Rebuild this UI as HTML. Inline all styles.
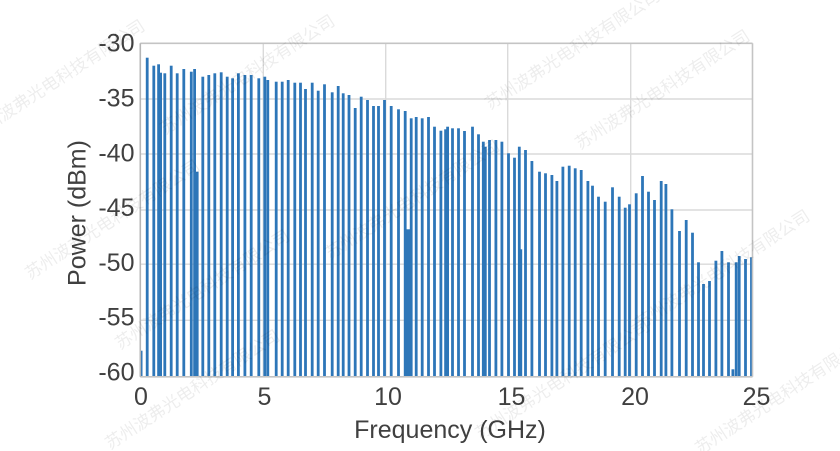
<!DOCTYPE html>
<html><head><meta charset="utf-8"><style>
html,body{margin:0;padding:0;background:#fff;width:840px;height:451px;overflow:hidden}
svg{display:block}
text{font-family:"Liberation Sans","Noto Sans CJK SC",sans-serif}
</style></head><body>
<svg width="840" height="451" viewBox="0 0 840 451" xmlns="http://www.w3.org/2000/svg">
<rect x="0" y="0" width="840" height="451" fill="#fff"/>
<!-- grid -->
<g stroke="#dadada" stroke-width="1.4" fill="none">
<line x1="140.3" y1="99" x2="752.5" y2="99"/>
<line x1="140.3" y1="154" x2="752.5" y2="154"/>
<line x1="140.3" y1="210" x2="752.5" y2="210"/>
<line x1="140.3" y1="264.2" x2="752.5" y2="264.2"/>
<line x1="140.3" y1="320.3" x2="752.5" y2="320.3"/>
<line x1="263.3" y1="43.3" x2="263.3" y2="376.8"/>
<line x1="385.7" y1="43.3" x2="385.7" y2="376.8"/>
<line x1="507.7" y1="43.3" x2="507.7" y2="376.8"/>
<line x1="630.7" y1="43.3" x2="630.7" y2="376.8"/>
</g>
<g id="bars" fill="#2d76b8"></g>
<!-- frame -->
<g stroke="#c4c4c4" stroke-width="1.6" fill="none">
<line x1="140.3" y1="43.3" x2="752.5" y2="43.3"/>
<line x1="752.5" y1="43.3" x2="752.5" y2="376.8"/>
<line x1="140.3" y1="376.8" x2="752.5" y2="376.8"/>
<line x1="140.3" y1="43.3" x2="140.3" y2="376.8" stroke="#b5b5b5"/>
</g>
<!-- y tick labels -->
<g fill="#404040" font-size="25" text-anchor="end">
<text x="134.5" y="51.7">-30</text>
<text x="134.5" y="106.5">-35</text>
<text x="134.5" y="161.3">-40</text>
<text x="134.5" y="216.1">-45</text>
<text x="134.5" y="270.9">-50</text>
<text x="134.5" y="325.7">-55</text>
<text x="134.5" y="380.5">-60</text>
</g>
<!-- x tick labels -->
<g fill="#404040" font-size="25" text-anchor="middle">
<text x="141" y="405">0</text>
<text x="264.5" y="405">5</text>
<text x="388" y="405">10</text>
<text x="511.5" y="405">15</text>
<text x="635" y="405">20</text>
<text x="756.5" y="405">25</text>
</g>
<text x="450" y="438" fill="#404040" font-size="25" text-anchor="middle">Frequency (GHz)</text>
<text transform="translate(85.5,213) rotate(-90)" fill="#404040" font-size="25" text-anchor="middle">Power (dBm)</text>
<!-- watermarks -->
<g fill="#000" fill-opacity="0.07" font-size="17" font-family="'Noto Sans CJK SC',sans-serif">
<text transform="translate(-25,140) rotate(-33)">苏州波弗光电科技有限公司</text>
<text transform="translate(165,135) rotate(-33)">苏州波弗光电科技有限公司</text>
<text transform="translate(490,110) rotate(-33)">苏州波弗光电科技有限公司</text>
<text transform="translate(580,150) rotate(-33)">苏州波弗光电科技有限公司</text>
<text transform="translate(330,260) rotate(-33)">苏州波弗光电科技有限公司</text>
<text transform="translate(120,350) rotate(-33)">苏州波弗光电科技有限公司</text>
<text transform="translate(110,450) rotate(-33)">苏州波弗光电科技有限公司</text>
<text transform="translate(480,440) rotate(-33)">苏州波弗光电科技有限公司</text>
<text transform="translate(700,455) rotate(-33)">苏州波弗光电科技有限公司</text>
<text transform="translate(640,330) rotate(-33)">苏州波弗光电科技有限公司</text>
<text transform="translate(30,280) rotate(-33)">苏州波弗光电科技有限公司</text>
</g>
</svg>
<script>
(function(){
var d=[
[141.3,350.7,2.4],[147.2,57.7],[153.8,65.7],[158.6,64.3],[160.6,72.7],[164.8,73.3],[171.2,65.7],[177.2,73.3],[183.8,69],
[191.3,71.7],[194.6,69],[197.2,171.7],[202.8,76.7],[208.8,75],[214.8,73.3],[221.2,72.3],[227.2,76.7],[232.6,78.3],
[238.4,73.3],[244.9,75],[251.2,75],[258.8,78.3],[264.8,76.7],[267.8,80],[276.2,81.7],[282.2,81.7],[288.2,80],
[294.8,82.7],[300.5,82.7],[305.5,89],[312.2,82.7],[318.2,90.7],[324.5,84.3],[332.2,92.3],[338.2,86],[343.2,93.3],
[349,95],[355.2,108],[361.2,96.7],[367.5,100],[373.5,106],[378.5,106],[384.5,100],[391.2,106],[398.5,109.3],
[405.2,111],[408.2,229.3,4.2],[411.2,118.3],[416.2,117],[422.2,118.3],[428.5,117],[434.5,126.7],[440.9,130.7],
[445.6,129.3],[447.6,126.7],[452.5,128.3],[458.5,128.3],[464.5,131],[472.5,126.7],[478.5,134.3],[483.3,141.7],
[485.3,146.7],[489.5,140],[495.9,140],[501.9,141.7],[508.5,153.3],[514.5,157.7],[519.3,146.7],[520.8,249.3],
[525.5,150],[531.9,161],[539.5,171.7],[545.5,173.3],[551.9,175],[556.9,181],[562.9,166.7],[569.2,165.7],[575.2,168.3],
[581.2,170],[587.9,181],[592.5,185.7],[598.5,196.7],[605.2,201.7],[612.5,187.3],[619.2,196.7],[625.2,207.7],
[629.5,204.3],[636.2,193.3],[642.5,176],[648.5,191.7],[654.5,200],[661.2,181],[665.9,184],[671.9,209.3],
[679.5,231],[686.2,220],[692.5,232.7],[698.5,262.3],[703.5,284],[709.5,281],[715.9,260.7],[721.9,251],
[728.5,262.3],[732.9,369.3],[736.2,262.3],[739.2,256],[745.5,259],[751.3,257.3,2.4]
];
var g=document.getElementById('bars'),ns='http://www.w3.org/2000/svg';
d.forEach(function(b){var w=b[2]||2.8;var r=document.createElementNS(ns,'rect');
r.setAttribute('x',(b[0]-w/2).toFixed(2));r.setAttribute('y',b[1]);r.setAttribute('width',w);
r.setAttribute('height',(376.8-b[1]).toFixed(2));g.appendChild(r);});
})();
</script>
</body></html>
